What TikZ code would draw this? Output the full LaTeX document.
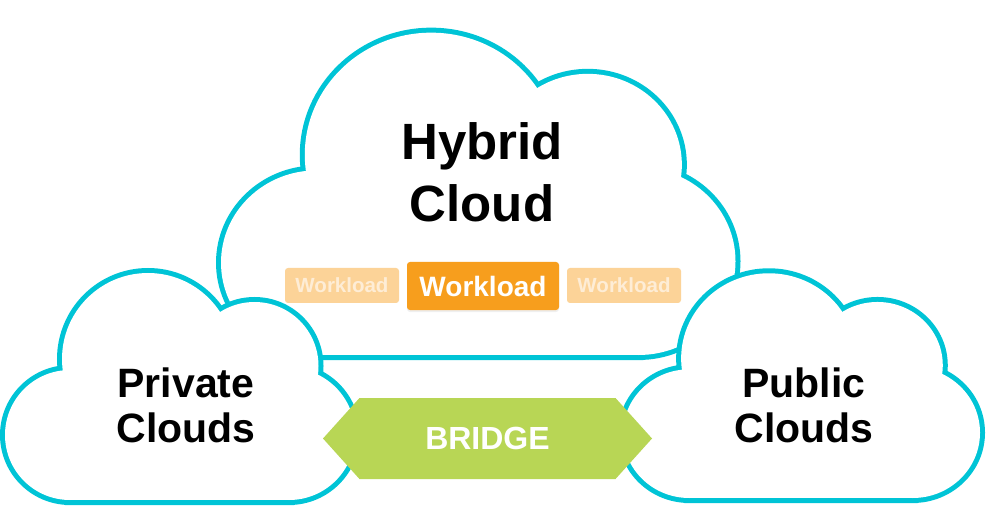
\documentclass[tikz,border=0pt]{standalone}
\usepackage{fontspec}
\setmainfont{Liberation Sans}
\usetikzlibrary{shapes.symbols,shadows}
\definecolor{cloudcyan}{RGB}{0,196,214}
\definecolor{wlorange}{RGB}{247,158,29}
\definecolor{wlfade}{RGB}{252,211,152}
\definecolor{wlfadetext}{RGB}{254,237,214}
\definecolor{bridgegreen}{RGB}{184,214,85}
\begin{document}
\begin{tikzpicture}[x=1pt,y=1pt,
  cloudpic/.pic={
    \draw[cloudcyan,line width=10pt] (65,65) circle (65) (143,141) circle (86)
      (249.5,134) circle (64) (284,66) circle (66) (65,0) rectangle (284,100);
    \fill[white] (65,65) circle (65);
    \fill[white] (143,141) circle (86);
    \fill[white] (249.5,134) circle (64);
    \fill[white] (284,66) circle (66);
    \fill[white] (65,0) rectangle (284,100);
  },
  lbl/.style={align=center,font=\fontsize{41}{45}\selectfont\bfseries},
  wl/.style={rounded corners=3pt,fill=wlfade,text=wlfadetext,inner sep=0pt,
    minimum width=114pt,minimum height=35pt,font=\fontsize{20.5}{24}\selectfont\bfseries},
  wlmain/.style={wl,fill=wlorange,text=white,minimum width=152pt,minimum height=48pt,
    font=\fontsize{28}{32}\selectfont\bfseries,
    drop shadow={opacity=0.12,shadow xshift=0pt,shadow yshift=-2pt}},
  bridge/.style={signal,signal to=east and west,signal pointer angle=96,
    fill=bridgegreen,text=white,inner sep=0pt,minimum width=329pt,minimum height=81pt,
    font=\fontsize{32}{36}\selectfont\bfseries}]
  \useasboundingbox (0,0) rectangle (992,517);
  \pic[xscale=1.47,yscale=1.42] (hybrid) at (221,162) {cloudpic};
  \node[align=center,font=\fontsize{51}{62}\selectfont\bfseries] (hyb) at (482,344.5) {Hybrid\\Cloud};
  \node[wl] (wl1) at (342,231.5) {Workload};
  \node[wlmain] (wl2) at (483,231) {Workload};
  \node[wl] (wl3) at (624,231.5) {Workload};
  \pic (private) at (5,17) {cloudpic};
  \pic[xscale=1.02,yscale=0.99] (public) at (623,19) {cloudpic};
  \node[lbl] (priv) at (186,112) {Private\\Clouds};
  \node[lbl] (pub) at (804,112) {Public\\Clouds};
  \node[bridge] (br) at (487.5,78.5) {BRIDGE};
\end{tikzpicture}
\end{document}
